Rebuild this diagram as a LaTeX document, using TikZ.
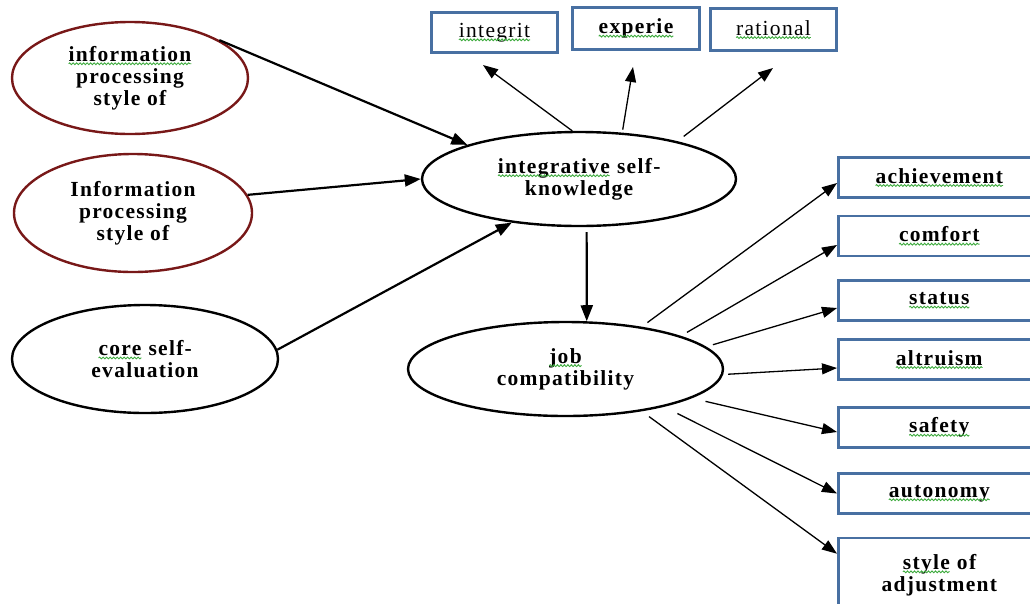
\documentclass[tikz,border=0pt]{standalone}
\usepackage{fontspec}
\setmainfont{Liberation Serif}[LetterSpace=6]
\usetikzlibrary{arrows.meta,shapes.geometric,decorations.pathmorphing}
\definecolor{boxblue}{RGB}{72,112,162}
\definecolor{ellred}{RGB}{120,24,24}
\definecolor{sqgreen}{RGB}{60,170,60}
\newcommand\sqw[1]{\tikz[baseline=(sqw.base)]{\node[shape=rectangle, inner sep=0pt, outer sep=0pt, minimum width=0pt, minimum height=0pt, draw=none, fill=none, anchor=center, text width=, align=left](sqw) at (0,0) {#1};
  \draw[sqgreen, line width=0.9pt, decorate, decoration={snake, amplitude=0.9pt, segment length=3.5pt}] ([yshift=-2.5pt]sqw.base west) -- ([yshift=-2.5pt]sqw.base east);}}
\begin{document}
\begin{tikzpicture}[x=1pt,y=-1pt,
  every node/.style={font=\fontsize{21.5}{22}\selectfont, align=center, inner sep=0pt},
  ell/.style={ellipse, draw, line width=2.4pt, font=\fontsize{21.5}{22}\selectfont\bfseries},
  box/.style={rectangle, draw=boxblue, line width=2.6pt},
  rbox/.style={box, minimum width=202, minimum height=40, anchor=west, font=\fontsize{21.5}{22}\selectfont\bfseries},
  thickarr/.style={-{Triangle[length=16pt,width=12pt]}, line width=2.2pt},
  thinarr/.style={-{Triangle[length=15pt,width=11pt]}, line width=1.3pt}
]
\useasboundingbox (0,0) rectangle (1030,603);
\clip (0,0) rectangle (1030,603);
% ellipses
\node[ell, draw=ellred, minimum width=236, minimum height=112] (e1) at (130,78) {\sqw{information}\\processing\\style of};
\node[ell, draw=ellred, minimum width=238, minimum height=118] (e2) at (133,213) {Information\\processing\\style of};
\node[ell, minimum width=266, minimum height=108] (e3) at (145,359) {\sqw{core} self-\\evaluation};
\node[ell, minimum width=314, minimum height=94] (e4) at (579,179) {\sqw{integrative} self-\\knowledge};
\node[ell, minimum width=315, minimum height=94] (e5) at (565.5,369) {\sqw{job}\\compatibility};
% top boxes
\node[box, minimum width=126, minimum height=40] (integrit) at (494.5,32.5) {\sqw{integrit}};
\node[box, minimum width=127, minimum height=42, font=\fontsize{21.5}{22}\selectfont\bfseries] (experie) at (636,28.5) {\sqw{experie}};
\node[box, minimum width=126, minimum height=42] (rational) at (773.5,29.5) {\sqw{rational}};
% right boxes
\node[rbox] (ach) at (837,177.5) {\sqw{achievement}};
\node[rbox] (com) at (837,236) {\sqw{comfort}};
\node[rbox] (sta) at (837,300.5) {\sqw{status}};
\node[rbox] (alt) at (837,359.5) {\sqw{altruism}};
\node[rbox] (saf) at (837,427.5) {\sqw{safety}};
\node[rbox] (aut) at (837,493.5) {\sqw{autonomy}};
\node[rbox, minimum height=74] (sty) at (837,575) {\sqw{style} of\\adjustment};
% free ends
\coordinate (tint) at (483,65);
\coordinate (texp) at (633,67);
\coordinate (trat) at (773,68);
% thick arrows
\draw[thickarr] (e1.23.6) -- (e4.163.4);
\draw[thickarr] (e2.9.7) -- (e4.west);
\draw[thickarr] (e3.4.8) -- (e4.213);
\draw[thickarr, shorten <=5pt] (e4.-81) -- (e5.66);
% top arrows
\draw[thinarr] (e4.98) -- (tint);
\draw[thinarr, shorten <=3pt] (e4.47.4) -- (texp);
\draw[thinarr, shorten <=8pt] (e4.21.6) -- (trat);
% right arrows
\draw[thinarr, shorten <=7pt] (e5.29.1) -- ([yshift=-5.5pt]ach.west);
\draw[thinarr, shorten <=7pt] (e5.16.8) -- ([yshift=-9pt]com.west);
\draw[thinarr, shorten <=7pt] (e5.9.3) -- ([yshift=-7.5pt]sta.west);
\draw[thinarr, shorten <=5pt] (e5.-2.8) -- ([yshift=-8.5pt]alt.west);
\draw[thinarr, shorten <=14pt] (e5.-13.8) -- ([yshift=-4.5pt]saf.west);
\draw[thinarr, shorten <=15pt] (e5.-21.4) -- (aut.west);
\draw[thinarr, shorten <=9pt] (e5.-29.7) -- ([yshift=-17pt]sty.north west);
\end{tikzpicture}
\end{document}
